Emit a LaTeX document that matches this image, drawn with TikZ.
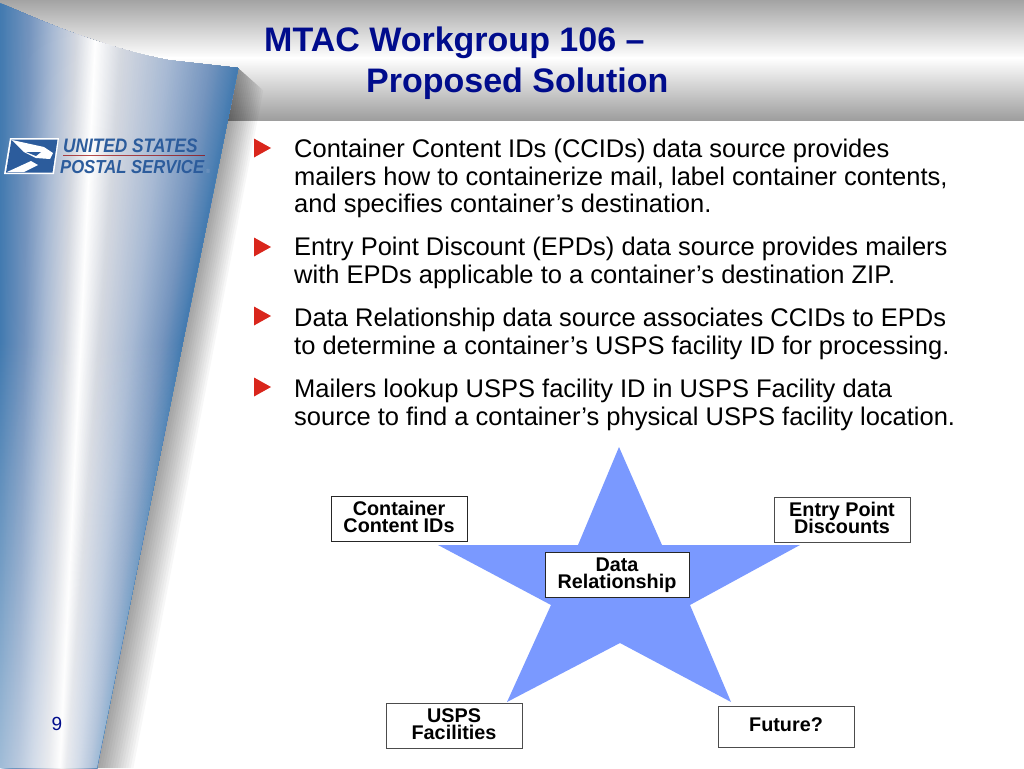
\documentclass[tikz,border=0pt]{standalone}
\usepackage{fontspec}
\setmainfont{Liberation Sans}
\newfontfamily\logofont[FakeStretch=.885]{Liberation Sans}
\usepackage{xcolor}
\usetikzlibrary{calc,fadings}
\definecolor{title-navy}{RGB}{0,12,140}
\definecolor{star-blue}{RGB}{122,153,255}
\definecolor{bullet-red}{RGB}{217,38,28}
\definecolor{logo-blue}{RGB}{44,92,156}
\definecolor{panel-a}{RGB}{66,122,176}
\definecolor{panel-b}{RGB}{116,148,190}
\definecolor{panel-c}{RGB}{168,186,212}
\definecolor{panel-d}{RGB}{212,216,224}
\setlength{\lineskiplimit}{-20pt}
\tikzfading[name=panelfade,top color=transparent!100,bottom color=transparent!50]
\tikzstyle{labelbox}=[draw=black!85,fill=white,line width=1pt,minimum width=136pt,minimum height=45pt,inner sep=0pt,align=center,execute at end node={\vphantom{p}},font=\fontsize{19.8}{17}\selectfont\bfseries]
\tikzstyle{itemtext}=[anchor=north west,inner sep=0pt,align=left,font=\fontsize{25.5}{27.7}\selectfont]
\tikzstyle{logotext}=[anchor=base west,inner sep=0pt,text=logo-blue]
% one slice of the curled panel, out to its right edge
\newcommand{\panelStrip}[3]{
	\fill[#3] (#1,0) -- (252,0) -- (97,768) -- (#2,768) -- cycle;
}
\begin{document}
\begin{tikzpicture}[x=1pt,y=-1pt]
	\useasboundingbox (0,0) rectangle (1024,768);
	% title band
	\shade[top color=black!36,bottom color=white] (0,0) rectangle (1024,58);
	\shade[top color=white,bottom color=black!38] (0,58) rectangle (1024,120);
	% shadow of the panel
	\foreach \w in {14,13,...,0}
		\fill[black,opacity=.03] (238,68) -- (238+1.8*\w,68+1.6*\w) -- (97+2.6*\w,768) -- (97,768) -- cycle;
	% panel
	\begin{scope}
		\clip (0,3) .. controls (33,17) and (93,45) .. (167,60) -- (238,68) -- (300,68) -- (300,768) -- (0,768) -- cycle;
		\foreach \ta/\tb/\ca/\cb in {0/.3/panel-a/panel-b,.3/.55/panel-b/panel-c,.55/.8/panel-c/panel-d,.8/1/panel-d/white}
			\foreach \i in {0,...,23} {
				\pgfmathsetmacro{\t}{\ta+(\tb-\ta)*\i/24}
				\pgfmathsetmacro{\m}{100-100*\i/24}
				\pgfmathsetmacro{\xa}{97*\t}
				\pgfmathsetmacro{\xb}{60*\t}
				\panelStrip{\xa}{\xb}{\ca!\m!\cb}
			}
		\foreach \ta/\tb/\ca/\cb in {0/.18/white/panel-d,.18/.5/panel-d/panel-c,.5/.8/panel-c/panel-b,.8/1/panel-b/panel-a}
			\foreach \i in {0,...,23} {
				\pgfmathsetmacro{\t}{\ta+(\tb-\ta)*\i/24}
				\pgfmathsetmacro{\m}{100-100*\i/24}
				\pgfmathsetmacro{\xa}{97+155*\t}
				\pgfmathsetmacro{\xb}{60+37*\t}
				\panelStrip{\xa}{\xb}{\ca!\m!\cb}
			}
		\fill[white,path fading=panelfade] (0,340) -- (183.4,340) -- (97,768) -- (0,768) -- cycle;
	\end{scope}
	% logo
	\fill[white] (10,138) -- (59,138) -- (54,174) -- (4,174) -- cycle;
	\fill[logo-blue] (11.5,139.5) -- (57.5,139.5) -- (52.5,172.5) -- (6,172.5) -- cycle;
	\fill[white] (12,140) -- (44,147) -- (53,153) -- (50,159) -- (36,158) -- (24,152) -- cycle;
	\fill[white] (7,172) -- (31,161) -- (38,165) -- (24,172) -- cycle;
	\fill[logo-blue] (26,152) -- (41,152) -- (36,156) -- cycle;
	\node[logotext,font=\logofont\fontsize{19.5}{19}\selectfont\bfseries\itshape] (logotop) at (63,152.5) {UNITED STATES};
	\node[logotext,font=\logofont\fontsize{18.8}{19}\selectfont\bfseries\itshape] (logobot) at (60,173) {POSTAL SERVICE};
	\draw[red!60!black,opacity=.7,line width=1pt] (63,155.5) -- (205,155.5);
	\node[inner sep=0pt,text=logo-blue!60,font=\fontsize{6}{6}\selectfont] (logomark) at (208,171) {®};
	% title and number
	\node[anchor=north west,inner sep=0pt,align=left,text=title-navy,font=\fontsize{34}{41}\selectfont\bfseries] (title) at (264,27) {MTAC Workgroup 106 --\\\hspace{102pt}Proposed Solution};
	\node[text=title-navy,inner sep=0pt,font=\fontsize{19}{19}\selectfont] (pagenum) at (57,724) {9};
	% bullets
	\foreach \y in {148,247,316,387}
		\fill[bullet-red] (254,\y-9.5) -- (271,\y) -- (254,\y+9.5) -- cycle;
	\node[itemtext] (itema) at (294,138.8) {Container Content IDs (CCIDs) data source provides\\mailers how to containerize mail, label container contents,\\and specifies container’s destination.};
	\node[itemtext] (itemb) at (294,236.8) {Entry Point Discount (EPDs) data source provides mailers\\with EPDs applicable to a container’s destination ZIP.};
	\node[itemtext] (itemc) at (294,307.8) {Data Relationship data source associates CCIDs to EPDs\\to determine a container’s USPS facility ID for processing.};
	\node[itemtext] (itemd) at (294,378.8) {Mailers lookup USPS facility ID in USPS Facility data\\source to find a container’s physical USPS facility location.};
	% star
	\fill[star-blue] (619,447) -- (662,545) -- (800,545) -- (690,605) -- (731,702) -- (620,643) -- (507,702) -- (551,605) -- (438,545) -- (578,545) -- cycle;
	\node[labelbox] (ccid) at (399,519) {Container\\Content IDs};
	\node[labelbox,draw=black!70] (epd) at (842,519.5) {Entry Point\\Discounts};
	\node[labelbox,minimum width=144pt] (datarel) at (617,575) {Data\\Relationship};
	\node[labelbox,draw=black!70] (usps) at (454,726) {USPS\\Facilities};
	\node[labelbox,draw=black!70,minimum height=41pt] (future) at (786,726.5) {Future?};
\end{tikzpicture}
\end{document}
